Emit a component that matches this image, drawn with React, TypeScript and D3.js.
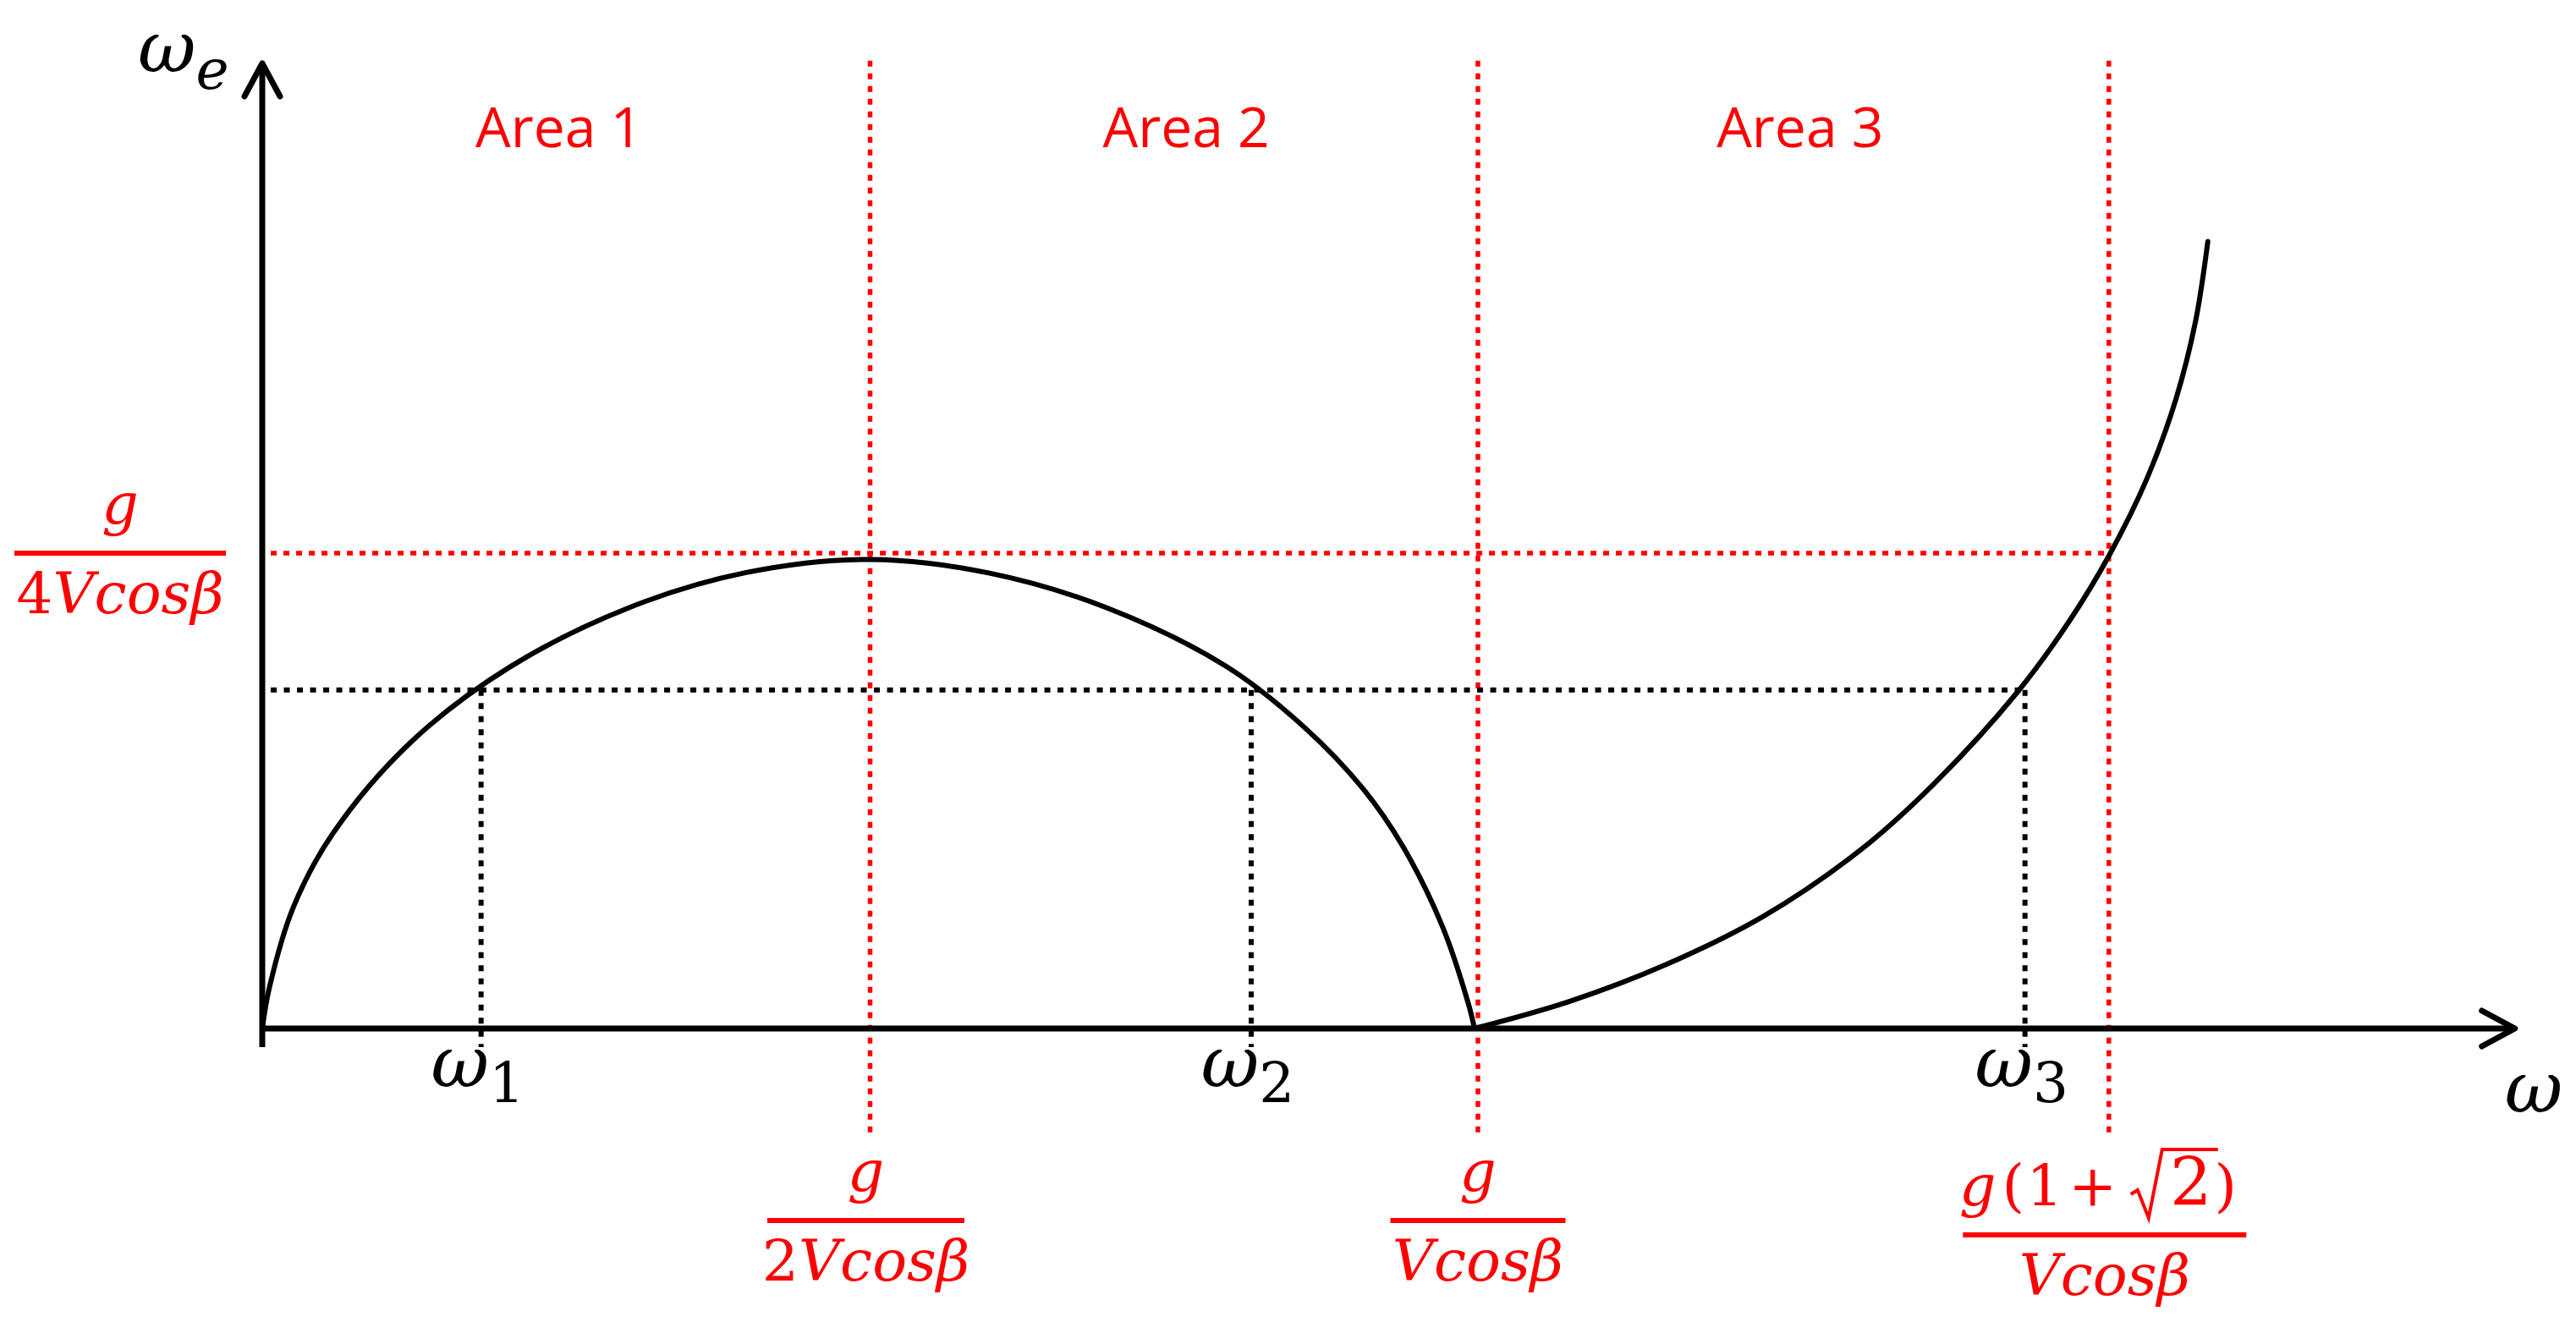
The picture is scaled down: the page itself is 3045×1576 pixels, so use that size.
import React from 'react';
import * as d3 from 'd3';

// ω and ω_e in units of g/(V cosβ)
const humpW = [0, 0.006, 0.0255, 0.0578, 0.1226, 0.2036, 0.3008, 0.3981, 0.501, 0.5983, 0.6954, 0.7926, 0.8574, 0.906, 0.9384, 0.9708, 0.9919, 0.9972];
const humpWe = [0, 0.0219, 0.0637, 0.1023, 0.1508, 0.1901, 0.2211, 0.2398, 0.2467, 0.2395, 0.2211, 0.1906, 0.1583, 0.1257, 0.0956, 0.0537, 0.0136, 0];
const riseW = [0.9972, 1.075, 1.1549, 1.2348, 1.3147, 1.3747, 1.4445, 1.4865, 1.5193, 1.5504, 1.5744, 1.5903, 1.6004];
const riseWe = [0, 0.0142, 0.0337, 0.059, 0.0939, 0.1284, 0.1775, 0.2143, 0.2489, 0.2893, 0.3315, 0.3719, 0.4139];

// guide lines
const redTicks = [0.5, 1.0, 1.519];
const peakLevel = 0.25;
const omegaTicks = [0.18, 0.8135, 1.45];
const omegaSubs = ['1', '2', '3'];
const omegaLevel = 0.178;

const areaNames = ['Area 1', 'Area 2', 'Area 3'];
const areaCenters = [0.244, 0.76, 1.265];

const W = 3045;
const H = 1576;
const RED = '#ff0000';
const MATH = '"DejaVu Serif", serif';

const x = d3.scaleLinear().domain([0, 1]).range([310, 1747]);
const y = d3.scaleLinear().domain([0, 0.25]).range([1216, 654]);

const line = d3
  .line<[number, number]>()
  .x((d) => x(d[0]))
  .y((d) => y(d[1]))
  .curve(d3.curveCatmullRom.alpha(0.5));

const hump: [number, number][] = humpW.map((w, i) => [w, humpWe[i]]);
const rise: [number, number][] = riseW.map((w, i) => [w, riseWe[i]]);

const Fraction: React.FC<{ cx: number; barY: number; barW: number; num?: React.ReactNode; den: React.ReactNode }> = ({ cx, barY, barW, num, den }) => (
  <g fill={RED} fontFamily={MATH} fontStyle="italic" fontSize={68} textAnchor="middle">
    {num !== undefined && (
      <text x={cx} y={barY - 35}>
        {num}
      </text>
    )}
    <line x1={cx - barW / 2} x2={cx + barW / 2} y1={barY} y2={barY} stroke={RED} strokeWidth={6} />
    <text x={cx} y={barY + 71}>
      {den}
    </text>
  </g>
);

const App: React.FC = () => {
  const x0 = x(0);
  const y0 = y(0);
  const xEnd = x(1.853);
  const yTop = y(0.5076);
  const guideTop = y(0.509);
  const guideBottom = y(-0.0552);
  const tickBottom = y(-0.0098);
  const guideStart = x(0.007);

  // third label: g(1+√2) built from pieces
  const c3 = x(redTicks[2]) - 5;
  const bar3 = y0 + 244;
  const nb3 = bar3 - 35;

  return (
    <svg
      width={W}
      height={H}
      viewBox={`0 0 ${W} ${H}`}
      style={{ position: 'absolute', left: 0, top: 0, background: '#fff', display: 'block' }}
    >
      {/* red guides */}
      <g stroke={RED} strokeWidth={5.5} strokeDasharray="7 8" fill="none">
        {redTicks.map((t) => (
          <line key={t} x1={x(t)} x2={x(t)} y1={guideTop} y2={guideBottom} />
        ))}
        <line x1={guideStart} x2={x(redTicks[2])} y1={y(peakLevel)} y2={y(peakLevel)} />
      </g>

      {/* black guides */}
      <g stroke="#000" strokeWidth={6} strokeDasharray="7 8.5" fill="none">
        <line x1={guideStart} x2={x(omegaTicks[2])} y1={y(omegaLevel)} y2={y(omegaLevel)} />
        {omegaTicks.map((t) => (
          <line key={t} x1={x(t)} x2={x(t)} y1={y(omegaLevel)} y2={tickBottom} />
        ))}
      </g>

      {/* axes */}
      <g stroke="#000" strokeWidth={7} fill="none" strokeLinecap="round" strokeLinejoin="round">
        <line x1={x0} x2={x0} y1={tickBottom} y2={yTop} strokeLinecap="butt" />
        <polyline points={`${x0 - 21},${yTop + 39} ${x0},${yTop} ${x0 + 21},${yTop + 39}`} />
        <line x1={x0} x2={xEnd} y1={y0} y2={y0} strokeLinecap="butt" />
        <polyline points={`${xEnd - 39},${y0 - 21} ${xEnd},${y0} ${xEnd - 39},${y0 + 21}`} />
      </g>

      {/* curve */}
      <g stroke="#000" strokeWidth={6} fill="none" strokeLinecap="round">
        <path d={line(hump) ?? ''} />
        <path d={line(rise) ?? ''} />
      </g>

      {/* area names */}
      <g fill={RED} fontFamily='"Open Sans", sans-serif' fontSize={66} textAnchor="middle">
        {areaNames.map((n, i) => (
          <text key={n} x={x(areaCenters[i])} y={174}>
            {n}
          </text>
        ))}
      </g>

      {/* axis titles */}
      <text x={x0 - 147} y={yTop + 10} fontFamily={MATH} fontStyle="italic" fontSize={84}>
        ω
        <tspan fontSize={66} dy={20}>
          e
        </tspan>
      </text>
      <text x={xEnd - 12} y={y0 + 99} fontFamily={MATH} fontStyle="italic" fontSize={84}>
        ω
      </text>

      {/* ω1, ω2, ω3 */}
      {omegaTicks.map((t, i) => (
        <text key={t} x={x(t) - 4} y={y0 + 69} fontFamily={MATH} fontStyle="italic" fontSize={84} textAnchor="middle">
          ω
          <tspan fontStyle="normal" fontSize={66} dy={18}>
            {omegaSubs[i]}
          </tspan>
        </text>
      ))}

      {/* red value labels */}
      <Fraction
        cx={142}
        barY={y(peakLevel)}
        barW={250}
        num="g"
        den={
          <>
            <tspan fontStyle="normal">4</tspan>Vcosβ
          </>
        }
      />
      <Fraction
        cx={x(redTicks[0]) - 5}
        barY={y0 + 227}
        barW={233}
        num="g"
        den={
          <>
            <tspan fontStyle="normal">2</tspan>Vcosβ
          </>
        }
      />
      <Fraction cx={x(redTicks[1])} barY={y0 + 227} barW={207} num="g" den="Vcosβ" />
      <Fraction cx={c3} barY={bar3} barW={335} den="Vcosβ" />
      <g fill={RED} fontFamily={MATH} fontSize={68} textAnchor="middle">
        <text x={c3 - 150} y={nb3} fontStyle="italic">g</text>
        <text x={c3 - 108} y={nb3}>(</text>
        <text x={c3 - 71} y={nb3}>1</text>
        <text x={c3 - 14} y={nb3}>+</text>
        <text x={c3 + 102} y={nb3} fontSize={78}>2</text>
        <text x={c3 + 143} y={nb3}>)</text>
      </g>
      <polyline
        points={`${c3 + 31},${bar3 - 48} ${c3 + 39},${bar3 - 53} ${c3 + 52},${bar3 - 20} ${c3 + 68},${bar3 - 101} ${c3 + 134},${bar3 - 101}`}
        fill="none"
        stroke={RED}
        strokeWidth={4}
        strokeLinejoin="miter"
      />
    </svg>
  );
};

export default App;
